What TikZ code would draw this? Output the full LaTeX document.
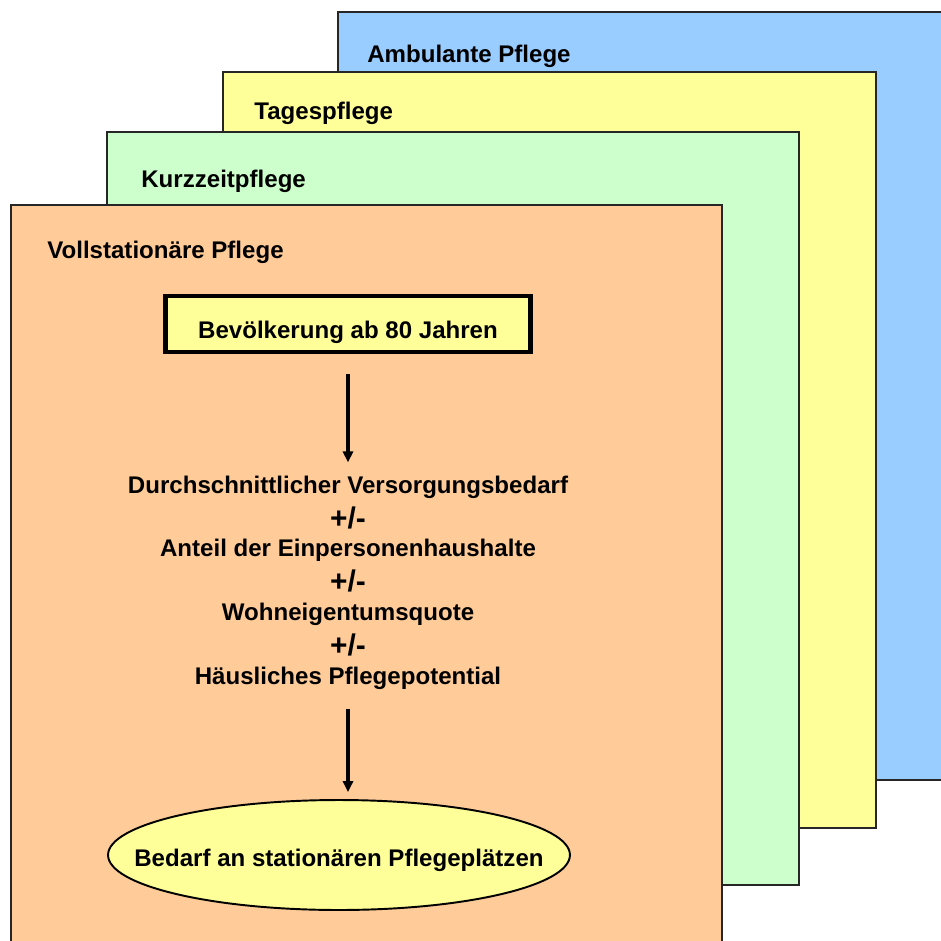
\documentclass[tikz,border=0pt]{standalone}
\usepackage{fontspec}
\setmainfont{Liberation Sans}
\usetikzlibrary{shapes.geometric, arrows.meta, positioning}
\definecolor{shblue}{RGB}{153,204,255}
\definecolor{shyellow}{RGB}{255,255,153}
\definecolor{shgreen}{RGB}{204,255,204}
\definecolor{shorange}{RGB}{255,204,153}
\tikzset{
  sheet/.style={draw=black!85, line width=0.6pt},
  title/.style={anchor=west, inner sep=0pt, font=\fontsize{13.7}{16}\selectfont\bfseries},
  txt/.style={inner sep=0pt, font=\fontsize{13.7}{16}\selectfont\bfseries},
  pm/.style={inner sep=0pt, font=\fontsize{17}{20}\selectfont\bfseries},
  block/.style={rectangle, draw=black, fill=shyellow, line width=2.8pt,
    minimum width=7.3cm, minimum height=1.12cm,
    text height=0.62cm, text depth=0.04cm,
    font=\fontsize{13.7}{16}\selectfont\bfseries},
  result/.style={ellipse, draw=black, fill=shyellow, line width=1.1pt,
    minimum width=9.24cm, minimum height=2.2cm,
    inner xsep=-1.2cm, inner ysep=0pt,
    text height=0.5cm, text depth=0.04cm,
    font=\fontsize{13.7}{16}\selectfont\bfseries},
  arrow/.style={-{Triangle[length=6.2pt, width=5.7pt]}, line width=2.8pt}
}

\begin{document}
\begin{tikzpicture}[x=0.02cm, y=-0.02cm]
  \useasboundingbox (0,0) rectangle (941,941);
  \clip (0,0) rectangle (941,941);

  % Sheets
  \draw[sheet, fill=shblue] (338,12) rectangle (950,780);
  \draw[sheet, fill=shyellow] (223,72) rectangle (876,828);
  \draw[sheet, fill=shgreen] (107,132) rectangle (799,885);
  \draw[sheet, fill=shorange] (11,205) rectangle (722,950);

  % Titles
  \node[title] (amb) at (367,56) {Ambulante Pflege};
  \node[title] (tag) at (254,113) {Tagespflege};
  \node[title] (kurz) at (141,181) {Kurzzeitpflege};
  \node[title] (voll) at (47,252) {Vollstationäre Pflege};

  % Nodes
  \node[block] (bev) at (348,324) {Bevölkerung ab 80 Jahren};
  \node[txt] (l1) at (348,487) {Durchschnittlicher Versorgungsbedarf};
  \node[pm] (p1) at (348,518) {+/-};
  \node[txt] (l2) at (348,550) {Anteil der Einpersonenhaushalte};
  \node[pm] (p2) at (348,581) {+/-};
  \node[txt] (l3) at (348,614) {Wohneigentumsquote};
  \node[pm] (p3) at (348,645) {+/-};
  \node[txt] (l4) at (348,678) {Häusliches Pflegepotential};
  \node[result] (bed) at (339,855) {Bedarf an stationären Pflegeplätzen};

  % Connections
  \draw[arrow, shorten <=0.4cm, shorten >=0.26cm] (bev) -- (l1);
  \draw[arrow, shorten <=0.38cm, shorten >=0.14cm] (l4) -- (bev |- bed.north);
\end{tikzpicture}
\end{document}
